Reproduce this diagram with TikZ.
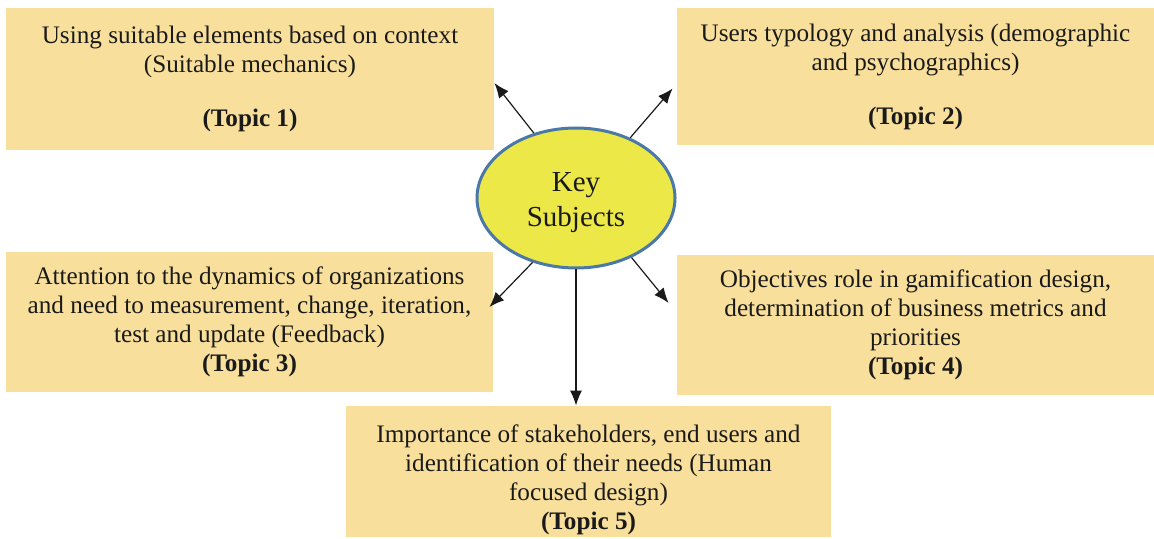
\documentclass[tikz,border=0pt]{standalone}
\usepackage{fontspec}
\setmainfont{Liberation Serif}
\usepackage{tikz}
\usetikzlibrary{positioning}
\usetikzlibrary{arrows.meta}
\usetikzlibrary{shapes.geometric}

\definecolor{topicfill}{HTML}{F8E09C}
\definecolor{keyfill}{HTML}{ECE847}
\definecolor{keyline}{HTML}{4A78A8}
\definecolor{inkcol}{HTML}{1A1A1A}

\tikzset{
  topicbox/.style={rectangle, fill=topicfill, inner sep=0pt, align=center,
    text=inkcol, font=\fontsize{12.6}{14.5}\selectfont},
  keynode/.style={ellipse, fill=keyfill, draw=keyline, line width=1.5pt,
    inner sep=0pt, minimum width=99pt, minimum height=70pt, align=center,
    text=inkcol, font=\fontsize{14.5}{17.5}\selectfont},
  link/.style={-{Latex[length=7.5pt,width=6pt]}, line width=0.6pt, color=inkcol}
}

\begin{document}
\begin{tikzpicture}[x=0.5pt,y=-0.5pt]
    \useasboundingbox (0,0) rectangle (1154,539); % page size
    % topic boxes
    \node[topicbox, minimum width=244pt, minimum height=71pt] (t1) at (250,79)
    {Using suitable elements based on context\\(Suitable mechanics)\\[12.5pt]\textbf{(Topic 1)}};
    \node[topicbox, minimum width=238.5pt, minimum height=68.5pt] (t2) at (915.5,76.5)
    {Users typology and analysis (demographic\\and psychographics)\\[12.5pt]\textbf{(Topic 2)}};
    \node[topicbox, minimum width=243.5pt, minimum height=70pt] (t3) at (249.5,322)
    {Attention to the dynamics of organizations\\and need to measurement, change, iteration,\\test and update (Feedback)\\\textbf{(Topic 3)}};
    \node[topicbox, minimum width=238.5pt, minimum height=70pt] (t4) at (915.5,325)
    {Objectives role in gamification design,\\determination of business metrics and\\priorities\\\textbf{(Topic 4)}};
    \node[topicbox, minimum width=242.5pt, minimum height=65.5pt] (t5) at (588.5,471.5)
    {\rule{0pt}{17pt}Importance of stakeholders, end users and\\identification of their needs (Human\\focused design)\\\textbf{(Topic 5)}};
    % centre
    \node[keynode] (key) at (576,198) {\rule{0pt}{14pt}Key\\Subjects};
    % arrows
    \draw[link] (key.123.5) -- ([shift={(0,4)}]t1.east);
    \draw[link] (key.48) -- ([shift={(-4,12)}]t2.west);
    \draw[link] (key.236.5) -- ([shift={(-4,-15)}]t3.east);
    \draw[link] (key.313.5) -- ([shift={(-8,-22)}]t4.west);
    \draw[link] (key.south) -- (key.south |- t5.north);
\end{tikzpicture}
\end{document}
